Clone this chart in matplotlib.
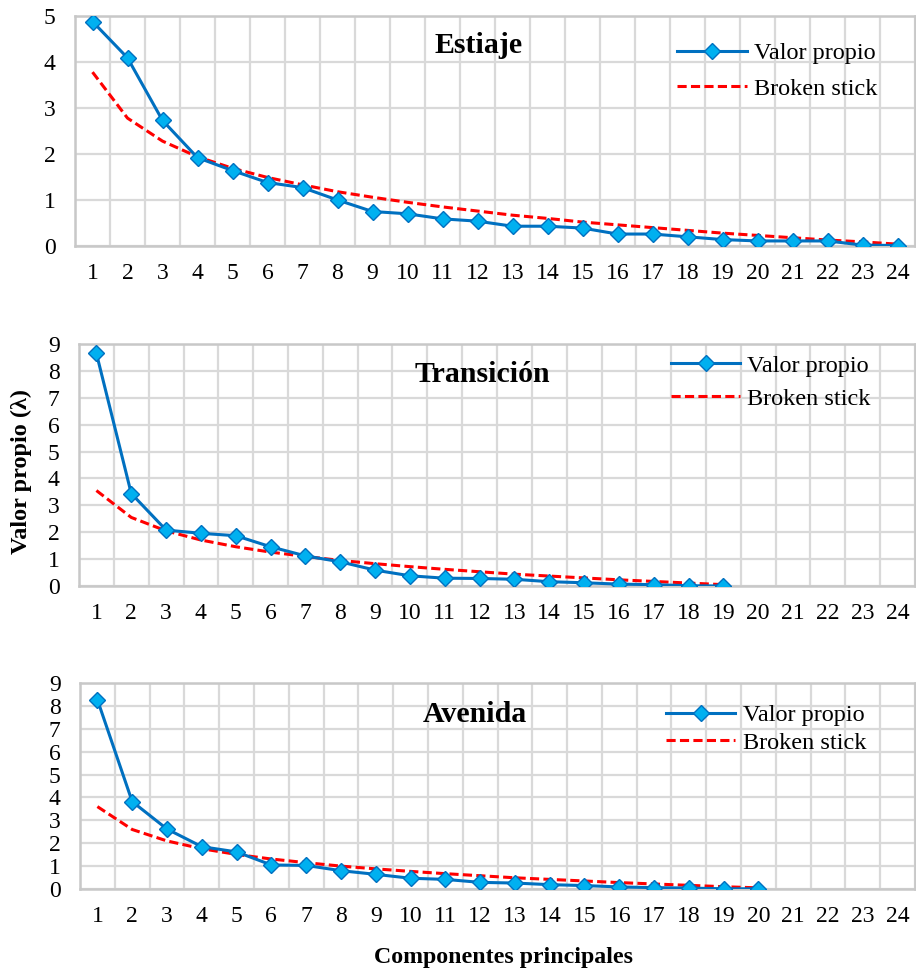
import matplotlib
matplotlib.use("Agg")
import matplotlib.pyplot as plt

plt.rcParams['font.family'] = ['Liberation Serif', 'DejaVu Serif']

# eigenvalues
componentes = list(range(1, 25))

estiaje_valor = [4.88, 4.09, 2.73, 1.92, 1.64, 1.38, 1.27, 1.00, 0.75, 0.70, 0.59, 0.54,
                 0.43, 0.43, 0.39, 0.26, 0.26, 0.20, 0.14, 0.11, 0.11, 0.11, 0.02, 0.01]
estiaje_broken = [3.78, 2.78, 2.28, 1.94, 1.69, 1.49, 1.33, 1.18, 1.06, 0.95, 0.85, 0.76,
                  0.67, 0.60, 0.52, 0.46, 0.40, 0.34, 0.28, 0.23, 0.18, 0.13, 0.09, 0.04]

transicion_valor = [8.65, 3.44, 2.08, 1.96, 1.87, 1.46, 1.12, 0.90, 0.59, 0.38, 0.29, 0.28,
                    0.25, 0.16, 0.12, 0.07, 0.05, 0.01, 0.00]
transicion_broken = [3.55, 2.55, 2.05, 1.71, 1.46, 1.26, 1.10, 0.95, 0.83, 0.72, 0.62, 0.53,
                     0.44, 0.37, 0.30, 0.23, 0.17, 0.11, 0.05]

avenida_valor = [8.27, 3.82, 2.62, 1.85, 1.62, 1.05, 1.03, 0.80, 0.64, 0.47, 0.42, 0.29,
                 0.26, 0.19, 0.15, 0.09, 0.06, 0.04, 0.01, 0.01]
avenida_broken = [3.60, 2.60, 2.10, 1.76, 1.51, 1.31, 1.15, 1.00, 0.88, 0.77, 0.67, 0.58,
                  0.49, 0.42, 0.35, 0.28, 0.22, 0.16, 0.10, 0.05]

# titulo, valores, broken stick, ymax, posicion del titulo, esquina de la leyenda, espaciado
paneles = [
    ("Estiaje", estiaje_valor, estiaje_broken, 5, (0.48, 0.872), (0.717, 0.885), 0.55),
    ("Transición", transicion_valor, transicion_broken, 9, (0.483, 0.873), (0.708, 0.955), 0.45),
    ("Avenida", avenida_valor, avenida_broken, 9, (0.473, 0.845), (0.702, 0.897), 0.22),
]

# axes boxes in pixels (left, top, right, bottom)
W, H = 916, 973
cajas = [
    (75, 16, 915, 246),
    (79, 344, 915, 586),
    (80, 683, 915, 889),
]

fig = plt.figure(figsize=(W / 100, H / 100), dpi=100)

grid_color = '#D9D9D9'
azul = '#0070C0'
celeste = '#00B0F0'

for (titulo, valor, broken, ymax, pos_titulo, pos_leyenda, esp), (x0, y0, x1, y1) in zip(paneles, cajas):
    ax = fig.add_axes([x0 / W, 1 - y1 / H, (x1 - x0) / W, (y1 - y0) / H])
    xs = componentes[:len(valor)]
    ax.plot(xs, valor, color=azul, lw=2.2, marker='D', ms=8.5,
            markerfacecolor=celeste, markeredgecolor=azul, markeredgewidth=1,
            label='Valor propio', zorder=3)
    ax.plot(xs, broken, color='#FF0000', lw=2.2, ls=(0, (3, 1.4)),
            label='Broken stick', zorder=2)

    ax.set_xlim(0.5, 24.5)
    ax.set_ylim(0, ymax)
    ax.set_xticks(componentes)
    ax.set_xticks([c + 0.5 for c in range(0, 25)], minor=True)
    ax.set_yticks(range(0, ymax + 1))
    ax.grid(False)
    ax.grid(True, which='minor', axis='x', color=grid_color, lw=1.6)
    ax.grid(True, which='major', axis='y', color=grid_color, lw=1.6)
    ax.set_axisbelow(True)
    ax.tick_params(which='both', length=0, labelsize=17)
    ax.tick_params(axis='x', pad=12)
    ax.tick_params(axis='y', pad=14)
    for s in ax.spines.values():
        s.set_color('#C8C8C8')
        s.set_linewidth(1.8)

    ax.text(pos_titulo[0], pos_titulo[1], titulo, transform=ax.transAxes,
            ha='center', va='center', fontsize=21.5, fontweight='bold')
    ax.legend(loc='upper left', bbox_to_anchor=pos_leyenda, frameon=False,
              fontsize=17.5, handlelength=2.85, handletextpad=0.3,
              labelspacing=esp, borderaxespad=0, borderpad=0)

fig.text(21 / W, 1 - 472 / H, 'Valor propio (λ)', ha='center', va='center',
         rotation=90, fontsize=17.5, fontweight='bold')
fig.text(504 / W, 1 - 958 / H, 'Componentes principales', ha='center', va='center',
         fontsize=17.2, fontweight='bold')

fig.savefig('out.png', dpi=100)
